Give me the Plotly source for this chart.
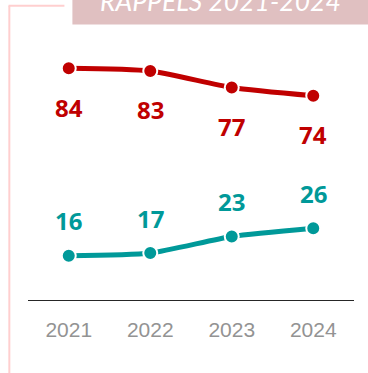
import plotly.graph_objects as go

years = ["2021", "2022", "2023", "2024"]
rouge = [84, 83, 77, 74]
vert = [16, 17, 23, 26]
titre = "RAPPELS 2021-2024"

RED = "#C00000"
TEAL = "#009999"

W, H = 368, 373
L, R, T, B = 27.5, 13.8, 24.2, 73.2
pw = W - L - R
ph = H - T - B


def px_x(x):
    return (x - L) / pw


def px_y(y):
    return (H - B - y) / ph


fig = go.Figure()

for vals, col in [(rouge, RED), (vert, TEAL)]:
    fig.add_trace(go.Scatter(
        x=years, y=vals, mode="lines+markers",
        line=dict(color=col, width=5, shape="spline", smoothing=0.6),
        marker=dict(size=14, color=col, line=dict(color="white", width=2)),
        hoverinfo="skip", showlegend=False,
    ))

# étiquettes (x = index de catégorie)
lbl_font = "Open Sans, Noto Sans, sans-serif"
for i, v in enumerate(rouge):
    fig.add_annotation(x=i, y=v, text=f"<b>{v}</b>", showarrow=False, yshift=-39,
                       font=dict(family=lbl_font, size=24, color=RED, weight=700))
for i, v in enumerate(vert):
    fig.add_annotation(x=i, y=v, text=f"<b>{v}</b>", showarrow=False, yshift=35,
                       font=dict(family=lbl_font, size=24, color=TEAL, weight=700))

# bandeau titre
fig.add_shape(type="rect", xref="paper", yref="paper",
              x0=px_x(72), x1=px_x(372), y0=px_y(24.7), y1=px_y(-5),
              fillcolor="#E0C0C1", line_width=0, layer="above")
fig.add_annotation(xref="paper", yref="paper", x=px_x(220), y=px_y(1.5),
                   text=f"<i>{titre}</i>", showarrow=False, yanchor="middle",
                   font=dict(family="Lato", size=26.5, color="white"))

# cadre rose
fig.add_shape(type="line", xref="paper", yref="paper",
              x0=px_x(8.8), x1=px_x(8.8), y0=px_y(6), y1=px_y(380),
              line=dict(color="#FFCFCF", width=2))
fig.add_shape(type="line", xref="paper", yref="paper",
              x0=px_x(8), x1=px_x(64), y0=px_y(6), y1=px_y(6),
              line=dict(color="#FFCFCF", width=2))

fig.update_xaxes(
    type="category", range=[-0.5, 3.5], showline=True, linecolor="#262626", linewidth=1.3,
    showgrid=False, ticks="", ticklabelstandoff=11,
    tickfont=dict(family="Liberation Sans Narrow, Arial Narrow, Liberation Sans",
                  size=21, color="#939393"),
)
fig.update_yaxes(range=[0, 100], visible=False, showgrid=False, zeroline=False)

fig.update_layout(
    width=W, height=H,
    margin=dict(l=L, r=R, t=T, b=B),
    paper_bgcolor="white", plot_bgcolor="white",
)

fig.write_html("out.html", config={"displayModeBar": False},
               post_script="document.body.style.margin='0';")
